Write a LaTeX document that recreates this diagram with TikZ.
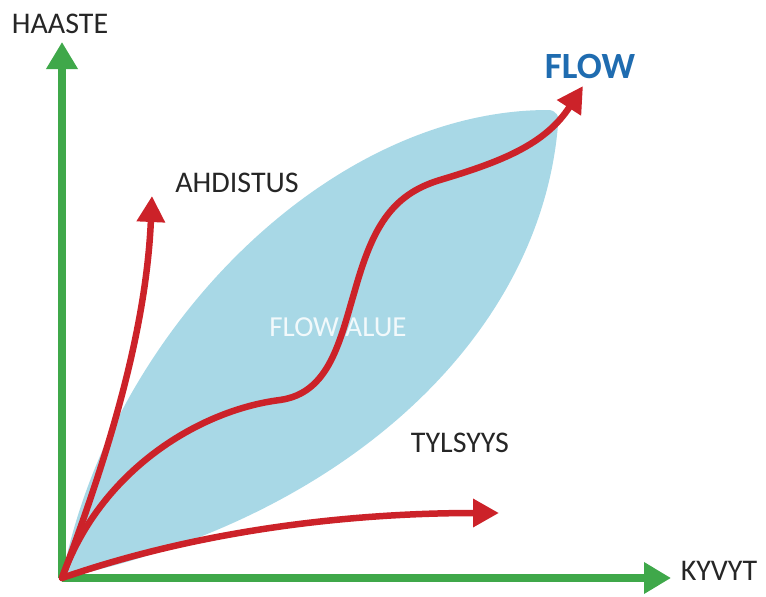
\documentclass[tikz,border=0pt]{standalone}
\usepackage{fontspec}
\setmainfont{Carlito}
\usetikzlibrary{arrows.meta}
\definecolor{axisgreen}{HTML}{3FA84A}
\definecolor{curvered}{HTML}{CC2229}
\definecolor{lensblue}{HTML}{A8D8E6}
\definecolor{flowblue}{HTML}{1F6CB0}
\tikzset{
  axisline/.style={draw=axisgreen, line width=8pt, -{Triangle[length=27pt,width=30pt]}},
  redline/.style={draw=curvered, line width=6.5pt, line cap=round, -{Triangle[length=26pt,width=27pt]}},
  lbl/.style={font=\fontsize{30}{34}\selectfont, text=black!85, inner sep=0pt},
}
\begin{document}
\begin{tikzpicture}[x=1pt,y=-1pt]
\useasboundingbox (0,0) rectangle (766,597);
\coordinate (O) at (62,578);
\coordinate (ytip) at (62,42);
\coordinate (xtip) at (671,578);
\coordinate (atip) at (152,196);
\coordinate (ftip) at (583,86);
\coordinate (ttip) at (499,513);
% lens (flow zone)
\fill[lensblue] (O) .. controls (110,330) and (330,110) .. (548,110)
  .. controls (556,110) and (560,116) .. (558,125)
  .. controls (540,340) and (340,520) .. (O) -- cycle;
% axes
\draw[axisline] (O) -- (ytip);
\draw[axisline] (O) -- (xtip);
% labels
\node[lbl] (haaste) at (60,24) {HAASTE};
\node[lbl] (kyvyt) at (719,571) {KYVYT};
\node[lbl] (ahd) at (237,183) {AHDISTUS};
\node[lbl] (tyl) at (460,443) {TYLSYYS};
\node[font=\fontsize{29}{34}\selectfont, text=white, opacity=0.85, inner sep=0pt] (alue) at (338,327) {FLOW ALUE};
\node[font=\bfseries\fontsize{37}{42}\selectfont, text=flowblue, inner sep=0pt] (flow) at (590,66) {FLOW};
% red curves
\draw[redline] (O) .. controls (110,450) and (146,330) .. (atip);
\draw[redline] (O) .. controls (200,530) and (350,513) .. (ttip);
\draw[redline] (O) .. controls (100,470) and (200,410) .. (280,400)
  .. controls (330,393) and (340,340) .. (355,290)
  .. controls (372,230) and (390,195) .. (440,180)
  .. controls (500,162) and (545,145) .. (ftip);
\end{tikzpicture}
\end{document}
